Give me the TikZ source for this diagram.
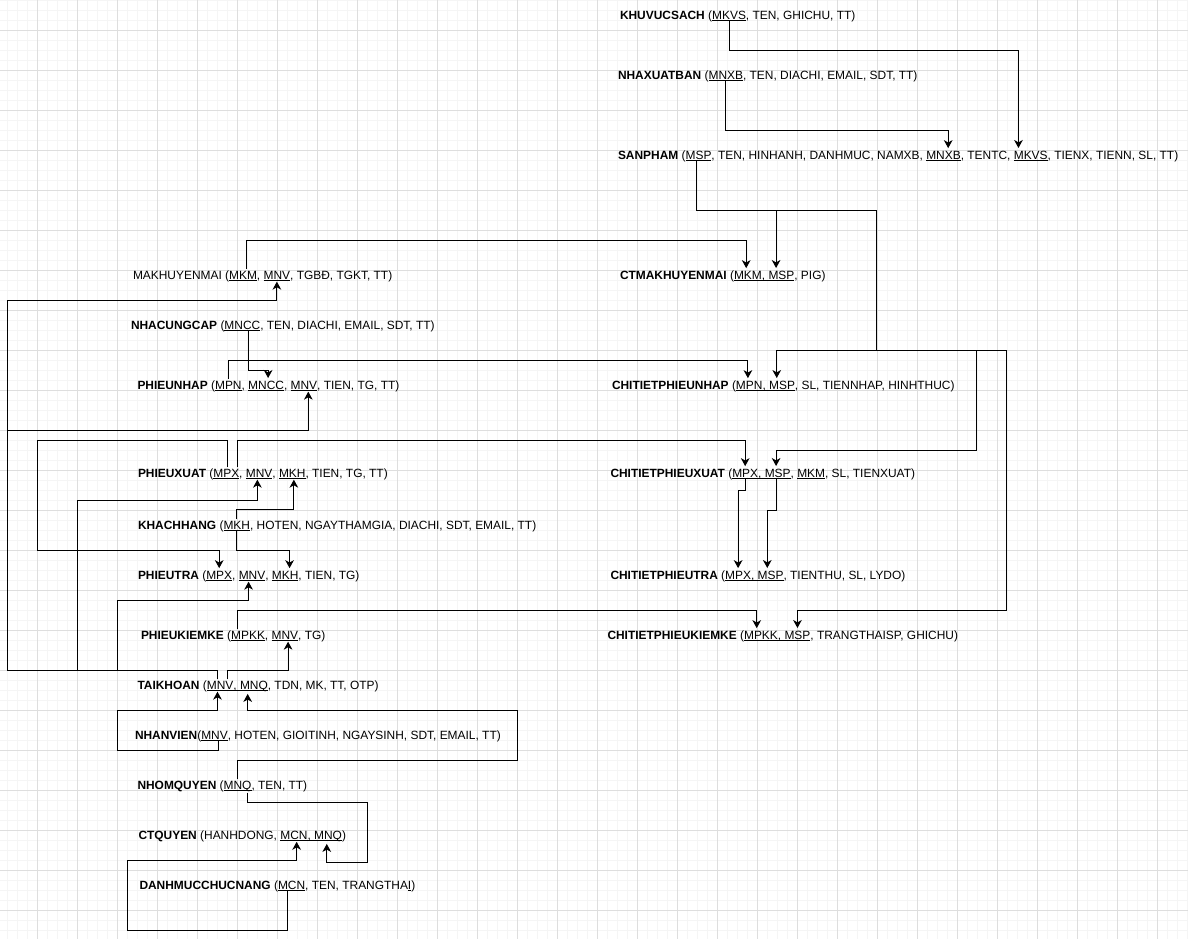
\documentclass[tikz,border=0pt]{standalone}
\usepackage{fontspec}
\setmainfont{Liberation Sans}
\usetikzlibrary{arrows.meta}
\definecolor{gridminc}{RGB}{245,245,245}
\definecolor{gridmajc}{RGB}{222,222,222}
% a word space that survives at the end of a node
\newcommand\kspace{\kern\fontdimen2\font}

\begin{document}
\begin{tikzpicture}[
    x=0.75pt, y=-0.75pt,
    font=\fontsize{8.95pt}{11pt}\selectfont,
    rel/.style={inner sep=0pt, outer sep=0pt, anchor=base west},
    ul/.style={draw=black, line width=0.65pt},
    key/.style={rel, append after command={([yshift=-1.4pt]\tikzlastnode.base west) edge[ul] ([yshift=-1.4pt]\tikzlastnode.base east)}},
    fk/.style={draw, line width=0.75pt, -{Stealth[length=6pt,width=6.5pt,inset=1.8pt]}, shorten <=1.2pt, shorten >=2pt},
    gridmin/.style={draw=gridminc, line width=0.75pt},
    gridmaj/.style={draw=gridmajc, line width=0.75pt}
]
\useasboundingbox (0,0) rectangle (1188,939);
\fill[white] (0,0) rectangle (1188,939);

% background grid
\foreach \gx in {7.5,17.5,...,1187.5} \draw[gridmin] (\gx,0) -- (\gx,939);
\foreach \gy in {0.5,10.5,...,930.5} \draw[gridmin] (0,\gy) -- (1188,\gy);
\foreach \gx in {37.5,77.5,...,1157.5} \draw[gridmaj] (\gx,0) -- (\gx,939);
\foreach \gy in {30.5,70.5,...,910.5} \draw[gridmaj] (0,\gy) -- (1188,\gy);

% relations, right column
\node[rel] (kv) at (620,19) {\textbf{KHUVUCSACH} (};
\node[key] (kv-mkvs) at (kv.base east) {MKVS};
\node[rel] (kv-r) at (kv-mkvs.base east) {, TEN, GHICHU, TT)};

\node[rel] (nxb) at (618,79) {\textbf{NHAXUATBAN} (};
\node[key] (nxb-mnxb) at (nxb.base east) {MNXB};
\node[rel] (nxb-r) at (nxb-mnxb.base east) {, TEN, DIACHI, EMAIL, SDT, TT)};

\node[rel] (sp) at (618,159) {\textbf{SANPHAM} (};
\node[key] (sp-msp) at (sp.base east) {MSP};
\node[rel] (sp-r1) at (sp-msp.base east) {, TEN, HINHANH, DANHMUC, NAMXB,\kspace};
\node[key] (sp-mnxb) at (sp-r1.base east) {MNXB};
\node[rel] (sp-r2) at (sp-mnxb.base east) {, TENTC,\kspace};
\node[key] (sp-mkvs) at (sp-r2.base east) {MKVS};
\node[rel] (sp-r3) at (sp-mkvs.base east) {, TIENX, TIENN, SL, TT)};

\node[rel] (ctkm) at (620,279) {\textbf{CTMAKHUYENMAI} (};
\node[key] (ctkm-mkm) at (ctkm.base east) {MKM};
\node[key] (ctkm-s) at (ctkm-mkm.base east) {,\kspace};
\node[key] (ctkm-msp) at (ctkm-s.base east) {MSP};
\node[rel] (ctkm-r) at (ctkm-msp.base east) {, PIG)};

\node[rel] (ctpn) at (612,389) {\textbf{CHITIETPHIEUNHAP} (};
\node[key] (ctpn-mpn) at (ctpn.base east) {MPN};
\node[key] (ctpn-s) at (ctpn-mpn.base east) {,\kspace};
\node[key] (ctpn-msp) at (ctpn-s.base east) {MSP};
\node[rel] (ctpn-r) at (ctpn-msp.base east) {, SL, TIENNHAP, HINHTHUC)};

\node[rel] (ctpx) at (610.5,477) {\textbf{CHITIETPHIEUXUAT} (};
\node[key] (ctpx-mpx) at (ctpx.base east) {MPX};
\node[key] (ctpx-s1) at (ctpx-mpx.base east) {,\kspace};
\node[key] (ctpx-msp) at (ctpx-s1.base east) {MSP};
\node[rel] (ctpx-s2) at (ctpx-msp.base east) {,\kspace};
\node[key] (ctpx-mkm) at (ctpx-s2.base east) {MKM};
\node[rel] (ctpx-r) at (ctpx-mkm.base east) {, SL, TIENXUAT)};

\node[rel] (ctpt) at (610.5,579) {\textbf{CHITIETPHIEUTRA} (};
\node[key] (ctpt-mpx) at (ctpt.base east) {MPX};
\node[key] (ctpt-s) at (ctpt-mpx.base east) {,\kspace};
\node[key] (ctpt-msp) at (ctpt-s.base east) {MSP};
\node[rel] (ctpt-r) at (ctpt-msp.base east) {, TIENTHU, SL, LYDO)};

\node[rel] (ctpkk) at (607.5,639) {\textbf{CHITIETPHIEUKIEMKE} (};
\node[key] (ctpkk-mpkk) at (ctpkk.base east) {MPKK};
\node[key] (ctpkk-s) at (ctpkk-mpkk.base east) {,\kspace};
\node[key] (ctpkk-msp) at (ctpkk-s.base east) {MSP};
\node[rel] (ctpkk-r) at (ctpkk-msp.base east) {, TRANGTHAISP, GHICHU)};

% relations, left column
\node[rel] (km) at (133,279) {MAKHUYENMAI (};
\node[key] (km-mkm) at (km.base east) {MKM};
\node[rel] (km-s) at (km-mkm.base east) {,\kspace};
\node[key] (km-mnv) at (km-s.base east) {MNV};
\node[rel] (km-r) at (km-mnv.base east) {, TGBĐ, TGKT, TT)};

\node[rel] (ncc) at (131,329) {\textbf{NHACUNGCAP} (};
\node[key] (ncc-mncc) at (ncc.base east) {MNCC};
\node[rel] (ncc-r) at (ncc-mncc.base east) {, TEN, DIACHI, EMAIL, SDT, TT)};

\node[rel] (pn) at (137.5,389) {\textbf{PHIEUNHAP} (};
\node[key] (pn-mpn) at (pn.base east) {MPN};
\node[rel] (pn-s1) at (pn-mpn.base east) {,\kspace};
\node[key] (pn-mncc) at (pn-s1.base east) {MNCC};
\node[rel] (pn-s2) at (pn-mncc.base east) {,\kspace};
\node[key] (pn-mnv) at (pn-s2.base east) {MNV};
\node[rel] (pn-r) at (pn-mnv.base east) {, TIEN, TG, TT)};

\node[rel] (px) at (138,477) {\textbf{PHIEUXUAT} (};
\node[key] (px-mpx) at (px.base east) {MPX};
\node[rel] (px-s1) at (px-mpx.base east) {,\kspace};
\node[key] (px-mnv) at (px-s1.base east) {MNV};
\node[rel] (px-s2) at (px-mnv.base east) {,\kspace};
\node[key] (px-mkh) at (px-s2.base east) {MKH};
\node[rel] (px-r) at (px-mkh.base east) {, TIEN, TG, TT)};

\node[rel] (kh) at (138,529) {\textbf{KHACHHANG} (};
\node[key] (kh-mkh) at (kh.base east) {MKH};
\node[rel] (kh-r) at (kh-mkh.base east) {, HOTEN, NGAYTHAMGIA, DIACHI, SDT, EMAIL, TT)};

\node[rel] (pt) at (138,579) {\textbf{PHIEUTRA} (};
\node[key] (pt-mpx) at (pt.base east) {MPX};
\node[rel] (pt-s1) at (pt-mpx.base east) {,\kspace};
\node[key] (pt-mnv) at (pt-s1.base east) {MNV};
\node[rel] (pt-s2) at (pt-mnv.base east) {,\kspace};
\node[key] (pt-mkh) at (pt-s2.base east) {MKH};
\node[rel] (pt-r) at (pt-mkh.base east) {, TIEN, TG)};

\node[rel] (pkk) at (141,639) {\textbf{PHIEUKIEMKE} (};
\node[key] (pkk-mpkk) at (pkk.base east) {MPKK};
\node[rel] (pkk-s) at (pkk-mpkk.base east) {,\kspace};
\node[key] (pkk-mnv) at (pkk-s.base east) {MNV};
\node[rel] (pkk-r) at (pkk-mnv.base east) {, TG)};

\node[rel] (tk) at (137.5,689) {\textbf{TAIKHOAN} (};
\node[key] (tk-mnv) at (tk.base east) {MNV};
\node[key] (tk-s) at (tk-mnv.base east) {,\kspace};
\node[key] (tk-mnq) at (tk-s.base east) {MNQ};
\node[rel] (tk-r) at (tk-mnq.base east) {, TDN, MK, TT, OTP)};

\node[rel] (nv) at (135,739) {\textbf{NHANVIEN}(};
\node[key] (nv-mnv) at (nv.base east) {MNV};
\node[rel] (nv-r) at (nv-mnv.base east) {, HOTEN, GIOITINH, NGAYSINH, SDT, EMAIL, TT)};

\node[rel] (nq) at (137.5,789) {\textbf{NHOMQUYEN} (};
\node[key] (nq-mnq) at (nq.base east) {MNQ};
\node[rel] (nq-r) at (nq-mnq.base east) {, TEN, TT)};

\node[rel] (ctq) at (138.5,839) {\textbf{CTQUYEN} (HANHDONG,\kspace};
\node[key] (ctq-mcn) at (ctq.base east) {MCN};
\node[key] (ctq-s) at (ctq-mcn.base east) {,\kspace};
\node[key] (ctq-mnq) at (ctq-s.base east) {MNQ};
\node[rel] (ctq-r) at (ctq-mnq.base east) {)};

\node[rel] (dm) at (139.5,889) {\textbf{DANHMUCCHUCNANG} (};
\node[key] (dm-mcn) at (dm.base east) {MCN};
\node[rel] (dm-r1) at (dm-mcn.base east) {, TEN, TRANGTHA};
\node[key] (dm-i) at (dm-r1.base east) {I};
\node[rel] (dm-r2) at (dm-i.base east) {)};

% bend points of the long runs
\coordinate (rail8) at (7.5,670);
\coordinate (rail78) at (77.5,670);
\coordinate (rail118) at (117.5,670);
\coordinate (rail38) at (37.5,440);
\coordinate (nvloop) at (117.5,750);

% foreign keys
\draw[fk] (kv-mkvs.south) -- ++(0,31) -| ([xshift=-9.2pt]sp-mkvs.north);
\draw[fk] (nxb-mnxb.south) -- ++(0,51) -| ([xshift=3.5pt]sp-mnxb.north);
\draw[fk] ([xshift=-1.5pt]sp-msp.south) -- ++(0,51) -| ([xshift=-4pt]ctkm-msp.north);
\draw[fk] ([xshift=-1.5pt]sp-msp.south) -- ++(0,51) -- ++(180,0) -- ++(0,140) -| ([xshift=-4pt]ctpn-msp.north);
\draw[fk] ([xshift=-1.5pt]sp-msp.south) -- ++(0,51) -- ++(180,0) -- ++(0,140) -- ++(100,0) -- ++(0,100) -| ([xshift=-1.2pt]ctpx-msp.north);
\draw[fk] ([xshift=-1.5pt]sp-msp.south) -- ++(0,51) -- ++(180,0) -- ++(0,140) -- ++(130,0) -- ++(0,260) -| (ctpkk-msp.north);

\draw[fk] ([xshift=2.75pt]km-mkm.north) -- ++(0,-30) -| ([xshift=-1.3pt]ctkm-mkm.north);
\draw[fk] ([xshift=-2pt]tk-mnv.north) |- (rail8) -- ++(0,-370) -| (km-mnv.south);
\draw[fk] ([xshift=-2pt]tk-mnv.north) |- (rail8) -- ++(0,-240) -| ([xshift=3.3pt]pn-mnv.south);
\draw[fk] ([xshift=-2pt]tk-mnv.north) |- (rail78) -- ++(0,-170) -| ([xshift=-1.3pt]px-mnv.south);
\draw[fk] ([xshift=-2pt]tk-mnv.north) |- (rail118) -- ++(0,-70) -| ([xshift=-2.6pt]pt-mnv.south);
\draw[fk] ([xshift=5.8pt]tk-mnv.north) -- ++(0,-10.5) -| ([xshift=2.4pt]pkk-mnv.south);

\draw[fk] ([xshift=4.8pt]ncc-mncc.south) -- ++(0,41) -| ([xshift=1.5pt]pn-mncc.north);
\draw[fk] (pn-mpn.north) -- ++(0,-20.5) -| ([xshift=-1pt]ctpn-mpn.north);
\draw[fk] ([xshift=1pt]px-mpx.north) |- (rail38) -- ++(0,110) -| (pt-mpx.north);
\draw[fk] ([xshift=8.3pt]px-mpx.north) -- ++(0,-28.5) -| (ctpx-mpx.north);
\draw[fk] (kh-mkh.north) -- ++(0,-11) -| ([xshift=1.2pt]px-mkh.south);
\draw[fk] (kh-mkh.south) -- ++(0,21) -| ([xshift=3.3pt]pt-mkh.north);
\draw[fk] ([xshift=-7.6pt]pkk-mpkk.north) -- ++(0,-20.5) -| ([xshift=-3.2pt]ctpkk-mpkk.north);
\draw[fk] (ctpx-mpx.south) -- ++(0,13) -| (ctpt-mpx.north);
\draw[fk] ([xshift=-1.2pt]ctpx-msp.south) -- ++(0,33) -| ([xshift=-2.5pt]ctpt-msp.north);

\draw[fk] ([xshift=3pt]nv-mnv.south) -- ++(0,11) -| (nvloop) -- ++(0,-40) -| ([xshift=-2pt]tk-mnv.south);
\draw[fk] (nq-mnq.north) -- ++(0,-20.5) -- ++(280,0) -- ++(0,-50) -| ([xshift=-4.7pt]tk-mnq.south);
\draw[fk] ([xshift=7.2pt]nq-mnq.south) -- ++(0,11) -- ++(120,0) -- ++(0,60) -| ([xshift=-1pt]ctq-mnq.south);
\draw[fk] ([xshift=-3.3pt]dm-mcn.south) -- ++(0,41) -- ++(-160,0) -- ++(0,-70) -| ([xshift=2pt]ctq-mcn.south);
\end{tikzpicture}
\end{document}
